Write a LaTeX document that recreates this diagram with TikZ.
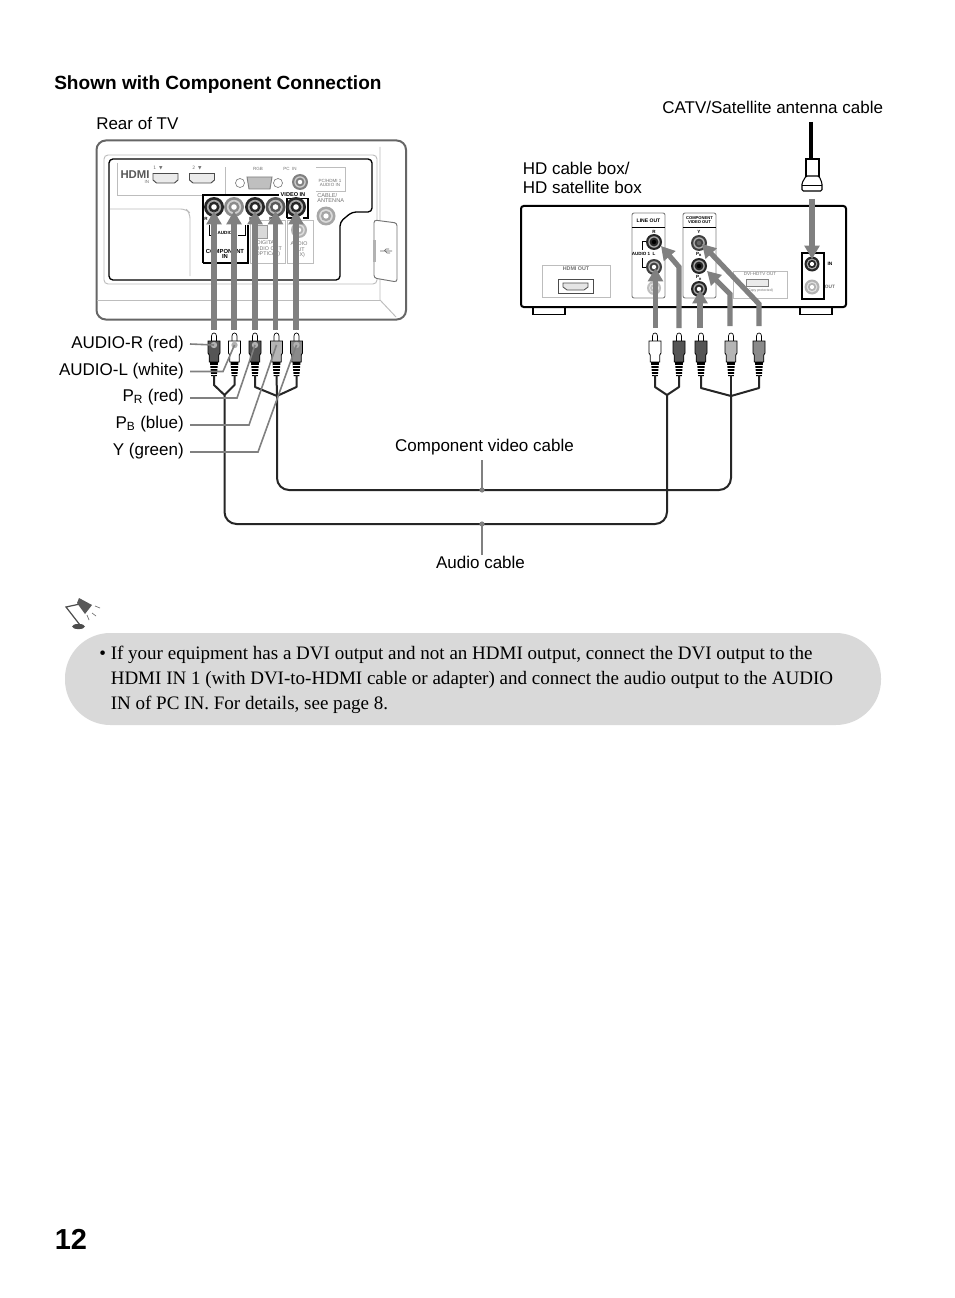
\documentclass[tikz,border=0pt]{standalone}
\usepackage{fontspec}
\setmainfont{Liberation Sans}
\newfontfamily\serifbody{Liberation Serif}
\newfontfamily\symbfont{DejaVu Sans}
\usetikzlibrary{arrows.meta}
\definecolor{arrowgray}{HTML}{808080}
\definecolor{panelgray}{HTML}{BDBDBD}
\definecolor{calloutgray}{HTML}{D9D9D9}
\definecolor{darkplug}{HTML}{555555}
\definecolor{midplug}{HTML}{8A8A8A}
\definecolor{lightplug}{HTML}{B5B5B5}
\newcommand{\fs}[1]{\fontsize{#1}{#1}\selectfont}
\tikzset{
  lbl/.style={inner sep=0pt,anchor=base east,font=\fs{12.75}},
  lblw/.style={inner sep=0pt,anchor=base west,font=\fs{12.75}},
  tiny/.style={inner sep=0pt,align=center,font=\fs{3.4}\bfseries,text=black},
  tinyg/.style={inner sep=0pt,align=center,font=\fs{3.4},text=black!55},
  bigarrow/.style={draw=arrowgray,line width=3.9pt,-{Triangle[width=11pt,length=10pt]}},
  wire/.style={draw=black!85,line width=1.5pt},
  leader/.style={draw=arrowgray,line width=1.2pt},
  panelline/.style={draw=panelgray,line width=0.7pt},
  tvline/.style={draw=black!60,line width=1.5pt},
}
% name, x, y, radius, ring colour, centre colour
\newcommand{\jack}[6]{%
  \node[circle,inner sep=0pt,minimum size=0pt] (#1) at (#2,#3) {};
  \fill[#5] (#2,#3) circle[radius=#4];
  \fill[white,opacity=0.6] (#2,#3) circle[radius=#4*0.72];
  \fill[#5] (#2,#3) circle[radius=#4*0.55];
  \fill[#6] (#2,#3) circle[radius=#4*0.28];
}
% name, x, fill
\newcommand{\plug}[3]{%
  \begin{scope}[shift={(#2,0)}]
    \draw[black,line width=0.5pt,fill=white] (-2.5,341)--(-2.5,336) .. controls (-2.5,332) and (2.5,332) .. (2.5,336)--(2.5,341);
    \draw[black,line width=0.6pt,fill=#3] (-6,341)--(6,341)--(6,353)--(4.8,355)--(4.8,362)--(-4.8,362)--(-4.8,355)--(-6,353)--cycle;
    \fill[black] (-4,362)--(4,362)--(2.8,376)--(-2.8,376)--cycle;
    \foreach \ry in {364.5,367.5,370.5,373.5} {\fill[white] (-4,\ry) rectangle (4,\ry+1.2);}
  \end{scope}
  \coordinate (#1) at (#2,375);
  \coordinate (#1h) at (#2,345);
}
\begin{document}
\begin{tikzpicture}[x=0.75pt,y=-0.75pt]
\useasboundingbox (0,0) rectangle (954,1298);
\fill[white] (0,0) rectangle (954,1298);

% ---------- headings
\node[lblw,font=\fs{14.3}\bfseries] (title) at (54,89.5) {Shown with Component Connection};
\node[lblw] (reartv) at (96,129.5) {Rear of TV};
\node[lblw] (catv) at (662,114) {CATV/Satellite antenna cable};
\node[lblw] (hdbox1) at (522.5,174.5) {HD cable box/};
\node[lblw] (hdbox2) at (522.5,194) {HD satellite box};

% ---------- TV rear
\draw[tvline,rounded corners=7] (96.5,140.5) rectangle (406,319.5);
\draw[panelline] (380,147)--(380,300)--(396,317);
\draw[panelline] (97,300)--(380,300);
\draw[panelline,rounded corners=3] (104,155) rectangle (377,284);
\draw[black,line width=1pt,fill=white,rounded corners=3] (109,159)--(372,159)--(372,212)--(352,212)--(340,222)--(340,280)--(109,280)--cycle;
\draw[panelline] (117,163)--(117,195)--(225,195)--(225,167);
\draw[panelline,rounded corners=4] (110,209)--(186,209)--(190,213)--(190,276);
\node[tinyg,font=\fs{8.5}\bfseries,text=black!65] (hdmilogo) at (135,175) {HDMI};
\node[tinyg] (hdmiin) at (147,182) {IN};
\node[tinyg,font=\fs{3.4}\symbfont] (h1) at (158,168) {1\ \ ▼};
\node[tinyg,font=\fs{3.4}\symbfont] (h2) at (197,168) {2\ \ ▼};
\foreach \hx in {165.5,202} {
  \draw[black!70,line width=0.7pt,fill=black!8] (\hx-12.5,173.5)--(\hx+12.5,173.5)--(\hx+12.5,180)--(\hx+9,183)--(\hx-9,183)--(\hx-12.5,180)--cycle;
}
\node[tinyg] (rgb) at (258,169) {RGB};
\node[tinyg] (pcin) at (290,168.5) {PC\ \ IN};
\draw[black!50,line width=0.7pt,fill=black!25] (247,177)--(272,177)--(270,189)--(249,189)--cycle;
\draw[black!50,line width=0.5pt] (240,183) circle[radius=4.5] (278,183) circle[radius=4.5];
\jack{pcjack}{300}{182}{8}{black!50}{white}
\node[tinyg] (pcaudio) at (330,183) {PC/HDMI 1\\AUDIO IN};
\draw[panelline] (316,167)--(345,167)--(345,191)--(316,191);
\node[tinyg,anchor=west,align=left,font=\fs{4.2}] (cable) at (317,198) {CABLE/\\ANTENNA};
\jack{antjack}{326}{216}{9.5}{black!35}{white}

% component box and light boxes
\draw[panelline] (250,220) rectangle (285,263);
\draw[panelline] (287,220) rectangle (313,263);
\draw[black,line width=0.9pt] (203,263)--(203,195)--(279,195);
\draw[black,line width=0.9pt] (203,263)--(248,263)--(248,225);
\draw[black,line width=0.9pt] (287,218)--(287,198.5)--(308,198.5)--(308,218)--(303,218) (287,218)--(292,218);
\node[tiny,font=\fs{4.2}\bfseries] (videoin) at (293,195) {VIDEO IN};
\node[tiny] (audiolbl) at (225,233) {AUDIO};
\draw[black,line width=0.6pt] (209,225)--(209,235)--(215,235) (245,225)--(245,235)--(238,235);
\node[tiny,font=\fs{4.4}\bfseries] (compin) at (225,254) {COMPONENT\\IN};
\node[tinyg,font=\fs{4}] (digout) at (267,249) {DIGITAL\\AUDIO OUT\\(OPTICAL)};
\node[tinyg,font=\fs{4}] (audout) at (299,250) {AUDIO\\OUT\\(FIX)};
\draw[black!40,line width=0.7pt,fill=black!15] (252,225) rectangle (267,238);
\jack{auxjack}{299}{230}{8}{black!30}{white}
\jack{tvj1}{214}{207}{10}{black!85}{white}
\jack{tvj2}{234}{207}{10}{black!45}{white}
\jack{tvj3}{255}{207}{10}{black!85}{white}
\jack{tvj4}{275.5}{207}{10}{black!65}{white}
\jack{tvj5}{296}{207}{10}{black!85}{white}
\node[tiny] (rr) at (206,219) {R};
\node[tiny] (pr) at (251,219) {P};
\node[tiny] (pb) at (271,219) {P};
\node[tiny] (yy) at (292,219) {Y};

% USB door
\draw[black!55,line width=0.7pt,fill=white,rounded corners=2] (374,220)--(397,223)--(397,282)--(374,278)--cycle;
\fill[black!30] (373,240) rectangle (376,262);
\draw[black!60,line width=0.5pt] (380,251)--(392,251) (384,251)--(386,249)--(389,249) (385,251)--(387,253)--(390,253);

% ---------- box rear
\draw[black,line width=1.5pt,rounded corners=2] (521,206) rectangle (846,307);
\draw[black,line width=0.8pt] (533,307)--(533,314.5)--(565,314.5)--(565,307);
\draw[black,line width=0.8pt] (800,307)--(800,314.5)--(832,314.5)--(832,307);
\draw[panelline] (542,265) rectangle (610,297);
\node[tinyg,font=\fs{4}\bfseries] (hdmiout) at (576,268.5) {HDMI OUT};
\draw[black!70,line width=0.7pt] (558,279) rectangle (593,293);
\draw[black!70,line width=0.6pt,fill=black!10] (563,283)--(588,283)--(588,287)--(584,290)--(567,290)--(563,287)--cycle;
\draw[panelline,black!50,rounded corners=1.5] (632,213) rectangle (665,298);
\draw[panelline,black!50,rounded corners=1.5] (683,213) rectangle (716,298);
\draw[black,line width=0.7pt] (632,227)--(665,227) (683,227)--(716,227);
\node[tiny,font=\fs{3.8}\bfseries] (lineout) at (648.5,220.5) {LINE OUT};
\node[tiny,font=\fs{3.1}\bfseries] (compout) at (699.5,220.5) {COMPONENT\\VIDEO OUT};
\node[tiny] (rlbl) at (654,232) {R};
\node[tiny] (llbl) at (654,254) {L};
\node[tiny] (aud1) at (641,254) {AUDIO 1};
\draw[black,line width=0.5pt] (646,241)--(642,241)--(642,250) (642,258)--(642,267)--(646,267);
\node[tiny] (ylbl) at (699,232) {Y};
\node[tiny] (pblbl) at (699,254.5) {P\textsubscript{B}};
\node[tiny] (prlbl) at (699,278) {P\textsubscript{R}};
\jack{bxr}{654}{242}{8}{black!85}{black}
\jack{bxl}{654}{267}{8}{black!75}{white}
\jack{bxa}{654}{288}{7}{black!25}{white}
\jack{bxy}{699}{243}{8}{black!75}{black!60}
\jack{bxb}{699}{266}{8}{black!85}{black}
\jack{bxp}{699}{289}{8}{black!85}{white}
\draw[panelline] (733,271) rectangle (787,298);
\node[tinyg] (dvilbl) at (760,273.5) {DVI-HDTV OUT};
\draw[black!50,line width=0.5pt,fill=black!8] (746,279)--(768,279)--(768,286)--(746,286)--cycle;
\node[tinyg,font=\fs{2.6}] (dvisub) at (760,291) {(Copy protected)};
\draw[black,line width=0.9pt] (802,253) rectangle (824,299);
\jack{inj}{812}{264}{7.5}{black!85}{white}
\jack{outj}{812}{287}{7.5}{black!30}{white}
\node[tiny,font=\fs{3.6}\bfseries] (inlbl) at (830,264) {IN};
\node[tinyg,font=\fs{3.6}\bfseries] (outlbl) at (830,287) {OUT};

% ---------- antenna cable
\coordinate (antTop) at (811,122);
\coordinate (antBot) at (811,160);
\draw[black,line width=3pt] (antTop)--(antBot);
\draw[black,line width=0.8pt,fill=white] (806,159) rectangle (819,178);
\draw[black,line width=0.8pt,fill=white,rounded corners=1] (806,176)--(819,176)--(822,183)--(822,191)--(802,191)--(802,183)--cycle;
\draw[black,line width=0.6pt] (802,185)--(822,185);

% ---------- plugs
\plug{pa}{214}{darkplug}
\plug{pb1}{234.5}{white}
\plug{pc}{255}{darkplug}
\plug{pd}{276.5}{lightplug}
\plug{pe}{296.5}{midplug}
\plug{qa}{655}{white}
\plug{qb}{679}{darkplug}
\plug{qc}{701}{darkplug}
\plug{qd}{731}{lightplug}
\plug{qe}{759}{midplug}
\foreach \hx in {214,234.5,255,276.5,296.5} {\fill[black!30] (\hx,345) circle[radius=3.2];}

% ---------- cables
\coordinate (ja) at (224.5,395);
\coordinate (jv) at (277,396);
\coordinate (ka) at (667,395);
\coordinate (kv) at (731,396);
\coordinate (dotv) at (482,490);
\coordinate (dota) at (482,524);
\draw[wire,line join=round] (pa)--(214,385)--(ja)--(234.5,385)--(pb1);
\draw[wire,line join=round] (pc)--(255,387)--(jv)--(296.5,387)--(pe);
\draw[wire,line join=round] (qa)--(655,387)--(ka)--(679,387)--(qb);
\draw[wire,line join=round] (qc)--(701,388)--(kv)--(759,388)--(qe);
\draw[wire] (pd)--(jv);
\draw[wire] (qd)--(kv);
\draw[wire,rounded corners=9] (ja)--(224.5,524)--(dota)--(667,524)--(ka);
\draw[wire,rounded corners=9] (jv)--(277,490)--(dotv)--(731,490)--(kv);

% ---------- arrows
\coordinate (ta1) at (214,330);
\coordinate (ta2) at (234,330);
\coordinate (ta3) at (255,330);
\coordinate (ta4) at (275.5,330);
\coordinate (ta5) at (296,330);
\foreach \a/\j in {ta1/tvj1,ta2/tvj2,ta3/tvj3,ta4/tvj4,ta5/tvj5} {\draw[bigarrow,shorten >=3pt] (\a)--(\j.center);}
\coordinate (ba1) at (655.5,328);
\coordinate (ba2) at (679,328);
\coordinate (ba3) at (700,328);
\coordinate (ba4) at (730,326);
\coordinate (ba5) at (759,326);
\draw[bigarrow] (ba1)--(655.5,268);
\draw[bigarrow,line join=miter] (ba2)--(679,267)--(661,246);
\draw[bigarrow] (ba3)--(700,290);
\draw[bigarrow] (ba4)--(730,294)--(707,271);
\draw[bigarrow] (ba5)--(759,304)--(702,244);
\coordinate (inTop) at (812,199);
\draw[bigarrow] (inTop)--(812,259);

% ---------- plug labels & leaders
\node[lbl] (l1) at (184,348) {AUDIO-R (red)};
\node[lbl] (l2) at (184,375) {AUDIO-L (white)};
\node[lbl] (l3) at (184,401) {P\textsubscript{R} (red)};
\node[lbl] (l4) at (184,428) {P\textsubscript{B} (blue)};
\node[lbl] (l5) at (184,455) {Y (green)};
\draw[leader] (190,344)--(pah);
\draw[leader] (190,371.5)--(223,371.5)--(pb1h);
\draw[leader] (190,398)--(237,398)--(pch);
\draw[leader] (190,425)--(249,425)--(pdh);
\draw[leader] (190,452)--(258,452)--(peh);

% ---------- cable labels
\node[inner sep=0pt,anchor=base,font=\fs{12.75}] (lv) at (484.5,451) {Component video cable};
\node[inner sep=0pt,anchor=base,font=\fs{12.75}] (la) at (480.5,568) {Audio cable};
\coordinate (lvb) at (482,460);
\coordinate (lab) at (482,555);
\draw[draw=arrowgray,line width=1.6pt] (lvb)--(dotv);
\draw[draw=arrowgray,line width=1.6pt] (lab)--(dota);
\fill[arrowgray] (dotv) circle[radius=2.6];
\fill[arrowgray] (dota) circle[radius=2.6];

% ---------- lamp
\fill[black!70] (78.5,626.5) ellipse[x radius=6.5,y radius=2.6];
\draw[black!70,line width=0.9pt] (80,625)--(66,607)--(80,604);
\fill[black!65] (77,603)--(79,598)--(92,605)--(85,614)--cycle;
\draw[black!55,line width=0.5pt] (95,606)--(100,608) (92,613)--(96,616) (87,615)--(89,620);

% ---------- callout
\node[fill=calloutgray,rounded corners=34pt,minimum width=612pt,minimum height=69pt,inner sep=0pt] (callout) at (473,679) {};
\node[lblw,font=\fs{14.27}\serifbody] (bullet) at (99,659) {•};
\node[lblw,font=\fs{14.27}\serifbody] (t1) at (110.5,659) {If your equipment has a DVI output and not an HDMI output, connect the DVI output to the};
\node[lblw,font=\fs{14.27}\serifbody] (t2) at (110.5,684) {HDMI IN 1 (with DVI-to-HDMI cable or adapter) and connect the audio output to the AUDIO};
\node[lblw,font=\fs{14.27}\serifbody] (t3) at (110.5,709) {IN of PC IN. For details, see page 8.};

% ---------- page number
\node[lblw,font=\fs{21.7}\bfseries] (pageno) at (54.5,1249) {12};
\end{tikzpicture}
\end{document}
